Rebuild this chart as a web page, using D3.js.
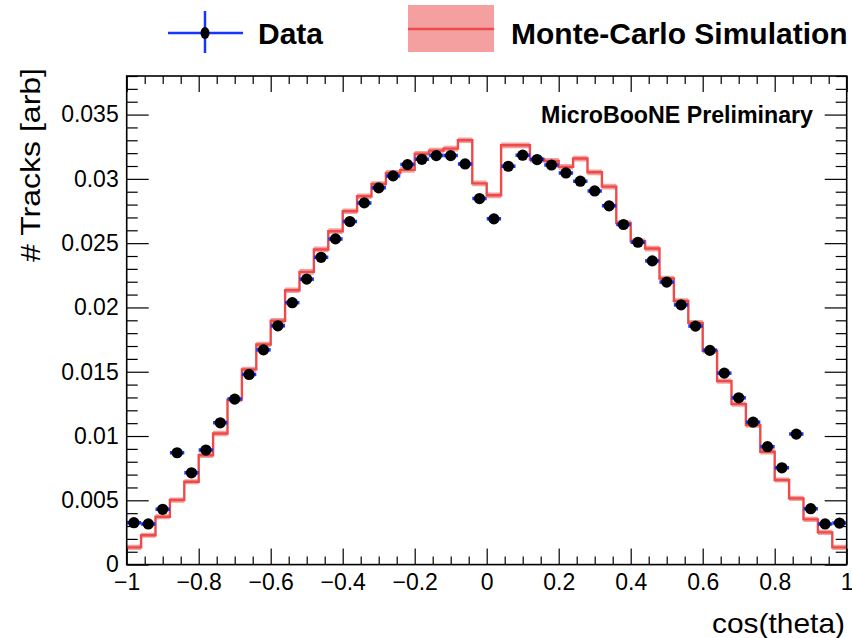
<!DOCTYPE html>
<html>
<head>
<meta charset="utf-8">
<script src="https://cdn.jsdelivr.net/npm/d3@7"></script>
<style>
  html, body { margin: 0; padding: 0; background: #fff; }
  svg { display: block; font-family: "Liberation Sans", Arial, Helvetica, sans-serif; }
</style>
</head>
<body>
<svg id="chart" width="852" height="638"></svg>
<script>
// Binning: 50 bins of width 0.04 over cos(theta) in [-1, 1]
const xMin = -1, xMax = 1, nBins = 50;

// Measured track fractions per bin (data)
const dataValues = [
  0.00326, 0.00316, 0.00430, 0.00870, 0.00714, 0.00891, 0.01103, 0.01287, 0.01479, 0.01670,
  0.01857, 0.02037, 0.02220, 0.02390, 0.02533, 0.02668, 0.02813, 0.02930, 0.03023, 0.03111,
  0.03152, 0.03181, 0.03181, 0.03116, 0.02847, 0.02689, 0.03098, 0.03184, 0.03150, 0.03108,
  0.03046, 0.02982, 0.02906, 0.02790, 0.02645, 0.02507, 0.02362, 0.02197, 0.02020, 0.01855,
  0.01666, 0.01489, 0.01297, 0.01108, 0.00917, 0.00753, 0.01015, 0.00435, 0.00316, 0.00323
];
// Statistical errors on the data (smaller than the marker)
const dataErrors = [
  0.00008, 0.00008, 0.00009, 0.00012, 0.00011, 0.00012, 0.00014, 0.00015, 0.00016, 0.00017,
  0.00018, 0.00018, 0.00019, 0.00020, 0.00020, 0.00021, 0.00021, 0.00022, 0.00022, 0.00022,
  0.00022, 0.00023, 0.00023, 0.00022, 0.00021, 0.00021, 0.00022, 0.00023, 0.00022, 0.00022,
  0.00022, 0.00022, 0.00021, 0.00021, 0.00021, 0.00020, 0.00019, 0.00019, 0.00018, 0.00017,
  0.00016, 0.00016, 0.00015, 0.00014, 0.00012, 0.00011, 0.00013, 0.00009, 0.00008, 0.00008
];
// Monte-Carlo prediction per bin
const mcValues = [
  0.00134, 0.00228, 0.00372, 0.00502, 0.00644, 0.00850, 0.01020, 0.01283, 0.01518, 0.01712,
  0.01896, 0.02134, 0.02277, 0.02451, 0.02593, 0.02748, 0.02865, 0.02960, 0.03046, 0.03070,
  0.03195, 0.03220, 0.03235, 0.03300, 0.02965, 0.02872, 0.03261, 0.03261, 0.03150, 0.03140,
  0.03093, 0.03158, 0.03051, 0.02940, 0.02657, 0.02515, 0.02458, 0.02225, 0.02050, 0.01880,
  0.01663, 0.01427, 0.01248, 0.01085, 0.00878, 0.00658, 0.00515, 0.00352, 0.00251, 0.00134
];
// Monte-Carlo uncertainty (half-width of the band)
const mcErrors = [
  0.00020, 0.00020, 0.00020, 0.00020, 0.00020, 0.00021, 0.00021, 0.00021, 0.00021, 0.00021,
  0.00022, 0.00022, 0.00022, 0.00022, 0.00022, 0.00022, 0.00022, 0.00022, 0.00022, 0.00022,
  0.00022, 0.00022, 0.00022, 0.00022, 0.00022, 0.00022, 0.00022, 0.00022, 0.00022, 0.00022,
  0.00022, 0.00022, 0.00022, 0.00022, 0.00022, 0.00022, 0.00022, 0.00022, 0.00022, 0.00022,
  0.00021, 0.00021, 0.00021, 0.00021, 0.00021, 0.00020, 0.00020, 0.00020, 0.00020, 0.00020
];

const xTickValues = [-1, -0.8, -0.6, -0.4, -0.2, 0, 0.2, 0.4, 0.6, 0.8, 1];
const xTickLabels = ["\u22121", "\u22120.8", "\u22120.6", "\u22120.4", "\u22120.2", "0", "0.2", "0.4", "0.6", "0.8", "1"];
const yTickValues = [0, 0.005, 0.01, 0.015, 0.02, 0.025, 0.03, 0.035];
const yTickLabels = ["0", "0.005", "0.01", "0.015", "0.02", "0.025", "0.03", "0.035"];

const legendLabels = ["Data", "Monte-Carlo Simulation"];
const xTitle = "cos(theta)";
const yTitle = "# Tracks [arb]";
const stamp = "MicroBooNE Preliminary";

// Colours
const dataColor = "#1436ff";
const mcLine = "#ef4a4a";
const mcBand = "#f4a0a0";

// Frame geometry
const frame = { left: 126.7, right: 846.7, top: 76, bottom: 564.6 };

const svg = d3.select("#chart");
const x = d3.scaleLinear().domain([xMin, xMax]).range([frame.left, frame.right]);
const y = d3.scaleLinear().domain([0, 0.038]).range([frame.bottom, frame.top]);

const binWidth = (xMax - xMin) / nBins;
const edges = d3.range(nBins + 1).map(i => xMin + i * binWidth);
const centers = d3.range(nBins).map(i => xMin + (i + 0.5) * binWidth);

const plot = svg.append("g");
plot.append("clipPath").attr("id", "clip")
  .append("rect")
  .attr("x", frame.left).attr("y", frame.top)
  .attr("width", frame.right - frame.left).attr("height", frame.bottom - frame.top);

const inner = plot.append("g").attr("clip-path", "url(#clip)");

// MC uncertainty band and central step line
const stepPts = mcValues.map((v, i) => ({ x: edges[i], v, e: mcErrors[i] }));
stepPts.push({ x: edges[nBins], v: mcValues[nBins - 1], e: mcErrors[nBins - 1] });

inner.append("path")
  .datum(stepPts)
  .attr("fill", mcBand)
  .attr("d", d3.area().curve(d3.curveStepAfter)
    .x(d => x(d.x)).y0(d => y(d.v - d.e)).y1(d => y(d.v + d.e)));

inner.append("path")
  .datum(stepPts)
  .attr("fill", "none")
  .attr("stroke", mcLine)
  .attr("stroke-width", 2.4)
  .attr("d", d3.line().curve(d3.curveStepAfter).x(d => x(d.x)).y(d => y(d.v)));

// Data points with error bars
const pts = inner.append("g").selectAll("g")
  .data(dataValues.map((v, i) => ({ c: centers[i], v, e: dataErrors[i] })))
  .join("g");

pts.append("line")
  .attr("x1", d => x(d.c - binWidth / 2)).attr("x2", d => x(d.c + binWidth / 2))
  .attr("y1", d => y(d.v)).attr("y2", d => y(d.v))
  .attr("stroke", dataColor).attr("stroke-width", 3.5);
pts.append("line")
  .attr("x1", d => x(d.c)).attr("x2", d => x(d.c))
  .attr("y1", d => y(d.v - d.e)).attr("y2", d => y(d.v + d.e))
  .attr("stroke", dataColor).attr("stroke-width", 2);
pts.append("circle")
  .attr("cx", d => x(d.c)).attr("cy", d => y(d.v))
  .attr("r", 5.6).attr("fill", "#000");

// Axes: major and minor ticks on all four sides, pointing inward
const minorX = d3.range(41).map(i => xMin + i * 0.05).filter(v => !xTickValues.some(t => Math.abs(t - v) < 1e-9));
const minorY = d3.range(39).map(i => i * 0.001).filter(v => !yTickValues.some(t => Math.abs(t - v) < 1e-9));

function styleAxis(g) {
  g.selectAll(".domain").remove();
  g.selectAll("line").attr("stroke", "#000").attr("stroke-width", 1.2);
}

const xLabelMap = new Map(xTickValues.map((v, i) => [v, xTickLabels[i]]));
const yLabelMap = new Map(yTickValues.map((v, i) => [v, yTickLabels[i]]));

svg.append("g").attr("transform", `translate(0,${frame.bottom})`)
  .call(d3.axisBottom(x).tickValues(xTickValues).tickSizeInner(-16).tickSizeOuter(0).tickPadding(9)
    .tickFormat(d => xLabelMap.get(d)))
  .call(styleAxis)
  .call(g => g.selectAll("text").attr("font-size", 23).attr("fill", "#000")
    .attr("font-family", "'Liberation Sans', Arial, Helvetica, sans-serif"));
svg.append("g").attr("transform", `translate(0,${frame.bottom})`)
  .call(d3.axisBottom(x).tickValues(minorX).tickSizeInner(-8).tickSizeOuter(0).tickFormat(""))
  .call(styleAxis);
svg.append("g").attr("transform", `translate(0,${frame.top})`)
  .call(d3.axisTop(x).tickValues(xTickValues).tickSizeInner(-16).tickSizeOuter(0).tickFormat(""))
  .call(styleAxis);
svg.append("g").attr("transform", `translate(0,${frame.top})`)
  .call(d3.axisTop(x).tickValues(minorX).tickSizeInner(-8).tickSizeOuter(0).tickFormat(""))
  .call(styleAxis);

svg.append("g").attr("transform", `translate(${frame.left},0)`)
  .call(d3.axisLeft(y).tickValues(yTickValues).tickSizeInner(-22).tickSizeOuter(0).tickPadding(8)
    .tickFormat(d => yLabelMap.get(d)))
  .call(styleAxis)
  .call(g => g.selectAll("text").attr("font-size", 23).attr("fill", "#000")
    .attr("font-family", "'Liberation Sans', Arial, Helvetica, sans-serif"));
svg.append("g").attr("transform", `translate(${frame.left},0)`)
  .call(d3.axisLeft(y).tickValues(minorY).tickSizeInner(-11).tickSizeOuter(0).tickFormat(""))
  .call(styleAxis);
svg.append("g").attr("transform", `translate(${frame.right},0)`)
  .call(d3.axisRight(y).tickValues(yTickValues).tickSizeInner(-22).tickSizeOuter(0).tickFormat(""))
  .call(styleAxis);
svg.append("g").attr("transform", `translate(${frame.right},0)`)
  .call(d3.axisRight(y).tickValues(minorY).tickSizeInner(-11).tickSizeOuter(0).tickFormat(""))
  .call(styleAxis);

// Frame
svg.append("rect")
  .attr("x", frame.left).attr("y", frame.top)
  .attr("width", frame.right - frame.left).attr("height", frame.bottom - frame.top)
  .attr("fill", "none").attr("stroke", "#000").attr("stroke-width", 1.6);

// Axis titles
svg.append("text")
  .attr("x", 845).attr("y", 633)
  .attr("text-anchor", "end")
  .attr("font-size", 28)
  .attr("textLength", 133).attr("lengthAdjust", "spacingAndGlyphs")
  .text(xTitle);

svg.append("text")
  .attr("transform", "translate(40,165) rotate(-90)")
  .attr("text-anchor", "middle")
  .attr("font-size", 28)
  .attr("textLength", 194).attr("lengthAdjust", "spacingAndGlyphs")
  .text(yTitle);

// Experiment stamp
svg.append("text")
  .attr("x", 813).attr("y", 123)
  .attr("text-anchor", "end")
  .attr("font-size", 23.2).attr("font-weight", "bold")
  .text(stamp);

// Legend
const leg = svg.append("g");
leg.append("line").attr("x1", 168).attr("x2", 243).attr("y1", 33).attr("y2", 33)
  .attr("stroke", dataColor).attr("stroke-width", 2.5);
leg.append("line").attr("x1", 205).attr("x2", 205).attr("y1", 11).attr("y2", 53)
  .attr("stroke", dataColor).attr("stroke-width", 2.5);
leg.append("ellipse").attr("cx", 205).attr("cy", 33).attr("rx", 4.5).attr("ry", 6).attr("fill", "#000");
leg.append("text").attr("x", 258).attr("y", 44)
  .attr("font-size", 30).attr("font-weight", "bold").text(legendLabels[0]);

leg.append("rect").attr("x", 408).attr("y", 5).attr("width", 86).attr("height", 47)
  .attr("fill", mcBand);
leg.append("line").attr("x1", 408).attr("x2", 494).attr("y1", 29).attr("y2", 29)
  .attr("stroke", mcLine).attr("stroke-width", 2.4);
leg.append("text").attr("x", 511).attr("y", 44)
  .attr("font-size", 30).attr("font-weight", "bold").text(legendLabels[1]);
</script>
</body>
</html>
